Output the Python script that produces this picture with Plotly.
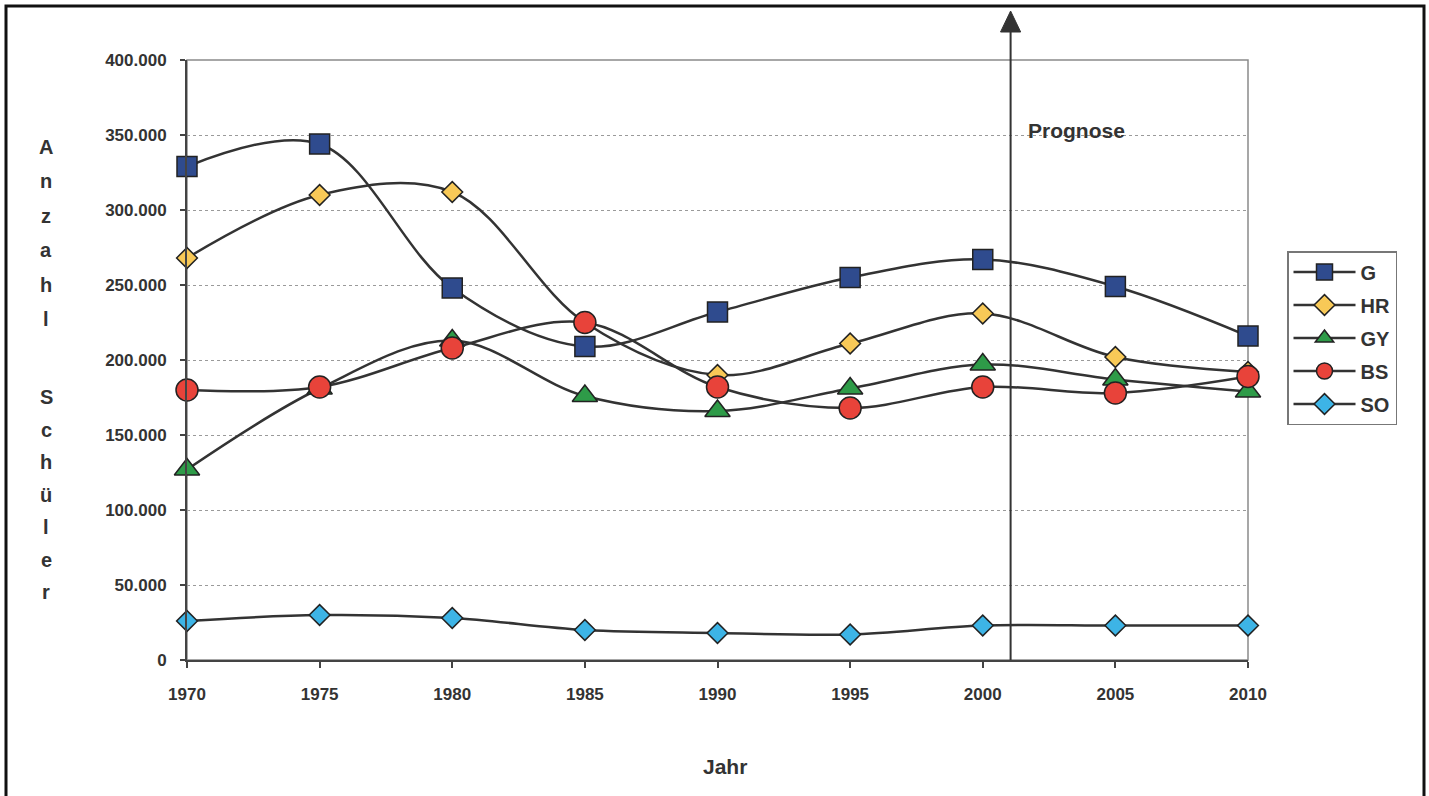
import plotly.graph_objects as go

# Schuljahre (Stichjahre) und Schülerzahlen je Schulart
jahre = [1970, 1975, 1980, 1985, 1990, 1995, 2000, 2005, 2010]

schueler_g = [329000, 344000, 248000, 209000, 232000, 255000, 267000, 249000, 216000]
schueler_hr = [268000, 310000, 312000, 225000, 190000, 211000, 231000, 202000, 192000]
schueler_gy = [127000, 181000, 213000, 176000, 166000, 181000, 197000, 187000, 179000]
schueler_bs = [180000, 182000, 208000, 225000, 182000, 168000, 182000, 178000, 189000]
schueler_so = [26000, 30000, 28000, 20000, 18000, 17000, 23000, 23000, 23000]

y_ticks = [0, 50000, 100000, 150000, 200000, 250000, 300000, 350000, 400000]
prognose_ab = 2001.05

FONT = "Liberation Sans, Arial, sans-serif"
TXT = "#333333"
LINE = "#333333"
OUTLINE = "#222222"

series = [
    ("G", schueler_g, "square", 20, "#2F4B8E"),
    ("HR", schueler_hr, "diamond", 16, "#F8C957"),
    ("GY", schueler_gy, "triangle-up", 22, "#2E9B48"),
    ("BS", schueler_bs, "circle", 22, "#E8433A"),
    ("SO", schueler_so, "diamond", 16, "#3DB4E6"),
]

fig = go.Figure()
for name, vals, sym, size, col in series:
    fig.add_trace(go.Scatter(
        x=jahre, y=vals, name=name, legendgroup=name,
        mode="lines+markers",
        line=dict(color=LINE, width=2.5, shape="spline", smoothing=1),
        marker=dict(symbol=sym, size=size, color=col,
                    line=dict(color=OUTLINE, width=1.5)),
        cliponaxis=False,
    ))

W, H = 1429, 796
L, R, T, B = 187, 181, 60, 136
pw, ph = W - L - R, H - T - B


def px_x(p):
    return (p - L) / pw


def px_y(p):
    return (H - B - p) / ph


shapes = [
    # Rahmen des Plotbereichs
    dict(type="rect", xref="paper", yref="paper", x0=0, x1=1, y0=0, y1=1,
         line=dict(color="#8a8a8a", width=1.5), layer="below"),
    # Außenrahmen
    dict(type="rect", xref="paper", yref="paper",
         x0=px_x(6), x1=px_x(1424), y0=px_y(820), y1=px_y(6),
         line=dict(color="#111111", width=3)),
    # Prognose-Pfeil
    dict(type="line", xref="x", yref="paper", x0=prognose_ab, x1=prognose_ab,
         y0=0, y1=px_y(28), line=dict(color=LINE, width=2)),
    dict(type="path", xref="x", yref="paper",
         path=f"M {prognose_ab - 0.38},{px_y(32)} L {prognose_ab + 0.38},{px_y(32)} "
              f"L {prognose_ab},{px_y(11)} Z",
         fillcolor=LINE, line=dict(color=LINE, width=1)),
]

annotations = [
    dict(text="Prognose", xref="paper", yref="paper", x=px_x(1026), y=px_y(130),
         xanchor="left", yanchor="middle", showarrow=False,
         font=dict(family=FONT, size=21, color=TXT, weight="bold")),
    dict(text="Jahr", xref="paper", yref="paper", x=px_x(725), y=px_y(766),
         xanchor="center", yanchor="middle", showarrow=False,
         font=dict(family=FONT, size=21, color=TXT, weight="bold")),
]

# senkrecht gestapelte Achsenbeschriftung, ein Buchstabe pro Zeile
for w, (wort, start, step) in enumerate([("Anzahl", 147, 34.4), ("Schüler", 397, 32.5)]):
    for i, ch in enumerate(wort):
        annotations.append(dict(
            text=ch, xref="paper", yref="paper", x=px_x(46), y=px_y(start + step * i),
            xanchor="center", yanchor="middle", showarrow=False,
            font=dict(family=FONT, size=20, color=TXT, weight="bold")))

fig.update_layout(
    width=W, height=H,
    margin=dict(l=L, r=R, t=T, b=B, autoexpand=False),
    paper_bgcolor="white", plot_bgcolor="white",
    separators=",.",
    showlegend=True,
    legend=dict(
        x=px_x(1287), y=px_y(251), xanchor="left", yanchor="top",
        bgcolor="white", bordercolor="#777777", borderwidth=1.5,
        font=dict(family=FONT, size=20, color=TXT, weight="bold"),
        itemwidth=62, traceorder="grouped", tracegroupgap=4,
    ),
    xaxis=dict(
        range=[1970, 2010], tickmode="array", tickvals=jahre,
        ticktext=[str(j) for j in jahre],
        showgrid=False, zeroline=False,
        showline=True, linecolor="#444444", linewidth=2,
        ticks="outside", ticklen=6, tickcolor="#444444", tickwidth=1.5,
        ticklabelstandoff=12,
        tickfont=dict(family=FONT, size=17, color=TXT, weight="bold"),
    ),
    yaxis=dict(
        range=[0, 400000], tickmode="array", tickvals=y_ticks,
        tickformat=",d",
        showgrid=True, gridcolor="#9a9a9a", griddash="dot", gridwidth=1,
        zeroline=False,
        showline=True, linecolor="#444444", linewidth=2,
        ticks="outside", ticklen=5, tickcolor="#444444", tickwidth=1.5,
        ticklabelstandoff=10,
        tickfont=dict(family=FONT, size=17, color=TXT, weight="bold"),
    ),
    shapes=shapes,
    annotations=annotations,
)

fig.write_html("out.html")
